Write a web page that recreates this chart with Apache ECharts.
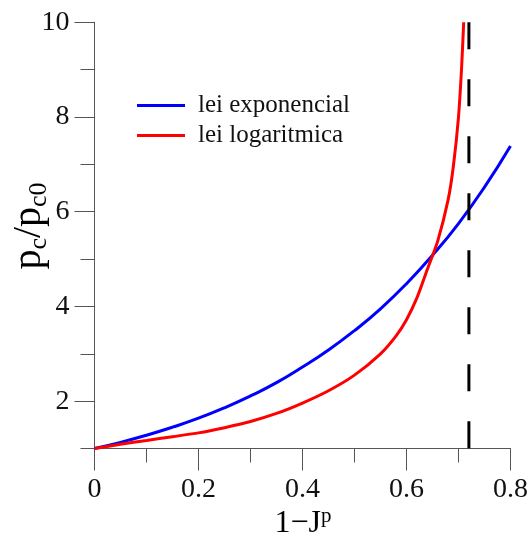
<!DOCTYPE html>
<html><head><meta charset="utf-8">
<script src="https://cdn.jsdelivr.net/npm/echarts@6/dist/echarts.min.js"></script>
<style>html,body{margin:0;padding:0;background:#fff}#c{width:531px;height:540px}</style>
</head><body><div id="c"></div>
<script>
// Data
const seriesNames = ['lei exponencial', 'lei logaritmica'];
const expX = [0, 0.05, 0.1, 0.15, 0.2, 0.25, 0.3, 0.35, 0.4, 0.45, 0.5, 0.55, 0.6, 0.65, 0.7, 0.75, 0.8];
const expY = [1.00, 1.13, 1.28, 1.45, 1.64, 1.86, 2.11, 2.39, 2.72, 3.08, 3.49, 3.95, 4.48, 5.08, 5.75, 6.52, 7.39];
const logX = [0, 0.05, 0.1, 0.15, 0.2, 0.25, 0.3, 0.35, 0.4, 0.45, 0.5, 0.55, 0.58, 0.6, 0.62, 0.64, 0.66, 0.68, 0.69, 0.7, 0.706, 0.71];
const logY = [1.00, 1.09, 1.17, 1.25, 1.33, 1.44, 1.57, 1.74, 1.96, 2.22, 2.55, 3.00, 3.38, 3.72, 4.18, 4.78, 5.38, 6.25, 6.95, 8.00, 9.05, 10.0];
const limitX = [0.72, 0.72];
const limitY = [10, 1];
const xMajorTicks = [0, 0.2, 0.4, 0.6, 0.8];
const xMinorTicks = [0.1, 0.3, 0.5, 0.7];
const yMajorTicks = [2, 4, 6, 8, 10];
const yMinorTicks = [1, 3, 5, 7, 9];

const zip = (xs, ys) => xs.map((x, i) => [x, ys[i]]);
const FONT = 'Liberation Serif';
const axisColor = '#555';
const grid = {left: 94.5, right: 18.3, top: 22.3, bottom: 91.5};

function xAxisDef(ticks, len, labels) {
  return {
    type: 'value', min: 0, max: 0.8, position: 'bottom',
    axisLine: {show: true, lineStyle: {color: axisColor, width: 1}},
    axisTick: {show: true, length: len, customValues: ticks, lineStyle: {color: axisColor, width: 1}},
    axisLabel: labels ? {show: true, customValues: ticks, margin: 27, fontFamily: FONT, fontSize: 28, color: '#111',
      formatter: v => String(Math.round(v * 10) / 10)} : {show: false},
    splitLine: {show: false}
  };
}
function yAxisDef(ticks, len, labels) {
  return {
    type: 'value', min: 1, max: 10, position: 'left',
    axisLine: {show: true, lineStyle: {color: axisColor, width: 1}},
    axisTick: {show: true, length: len, customValues: ticks, lineStyle: {color: axisColor, width: 1}},
    axisLabel: labels ? {show: true, customValues: ticks, margin: 25, fontFamily: FONT, fontSize: 28, color: '#111'} : {show: false},
    splitLine: {show: false}
  };
}

const chart = echarts.init(document.getElementById('c'), null, {renderer: 'canvas'});
chart.setOption({
  animation: false,
  backgroundColor: '#fff',
  grid: grid,
  xAxis: [xAxisDef(xMajorTicks, 22, true), xAxisDef(xMinorTicks, 14, false)],
  yAxis: [yAxisDef(yMajorTicks, 20, true), yAxisDef(yMinorTicks, 14, false)],
  legend: {
    data: seriesNames, orient: 'vertical', left: 132, top: 87,
    icon: 'rect', itemWidth: 48, itemHeight: 3, itemGap: 3,
    textStyle: {fontFamily: FONT, fontSize: 25, color: '#111', lineHeight: 27, padding: [0, 0, 0, 8]}
  },
  graphic: [
    {type: 'text', x: 303, y: 542, style: {
      text: '{m|1\u2212J}{s|p}', align: 'center', verticalAlign: 'bottom',
      rich: {m: {fontFamily: FONT, fontSize: 32, color: '#111', lineHeight: 36},
             s: {fontFamily: FONT, fontSize: 21, color: '#111', verticalAlign: 'top', lineHeight: 36}}}},
    {type: 'text', x: 29, y: 226, rotation: Math.PI / 2, style: {
      text: '{m|p}{s|c}{m|/p}{s|c0}', align: 'center', verticalAlign: 'middle',
      rich: {m: {fontFamily: FONT, fontSize: 40, color: '#111', lineHeight: 46},
             s: {fontFamily: FONT, fontSize: 26, color: '#111', verticalAlign: 'bottom', lineHeight: 20}}}}
  ],
  series: [
    {name: seriesNames[0], type: 'line', data: zip(expX, expY), smooth: true, showSymbol: false,
      lineStyle: {color: '#0000ff', width: 3}, itemStyle: {color: '#0000ff'}},
    {name: seriesNames[1], type: 'line', data: zip(logX, logY), smooth: 0.25, showSymbol: false,
      lineStyle: {color: '#ff0000', width: 3}, itemStyle: {color: '#ff0000'}},
    {name: 'limite', type: 'line', data: zip(limitX, limitY), showSymbol: false, silent: true,
      lineStyle: {color: '#000', width: 3, type: [27, 30], cap: 'butt'}}
  ]
});
</script></body></html>
